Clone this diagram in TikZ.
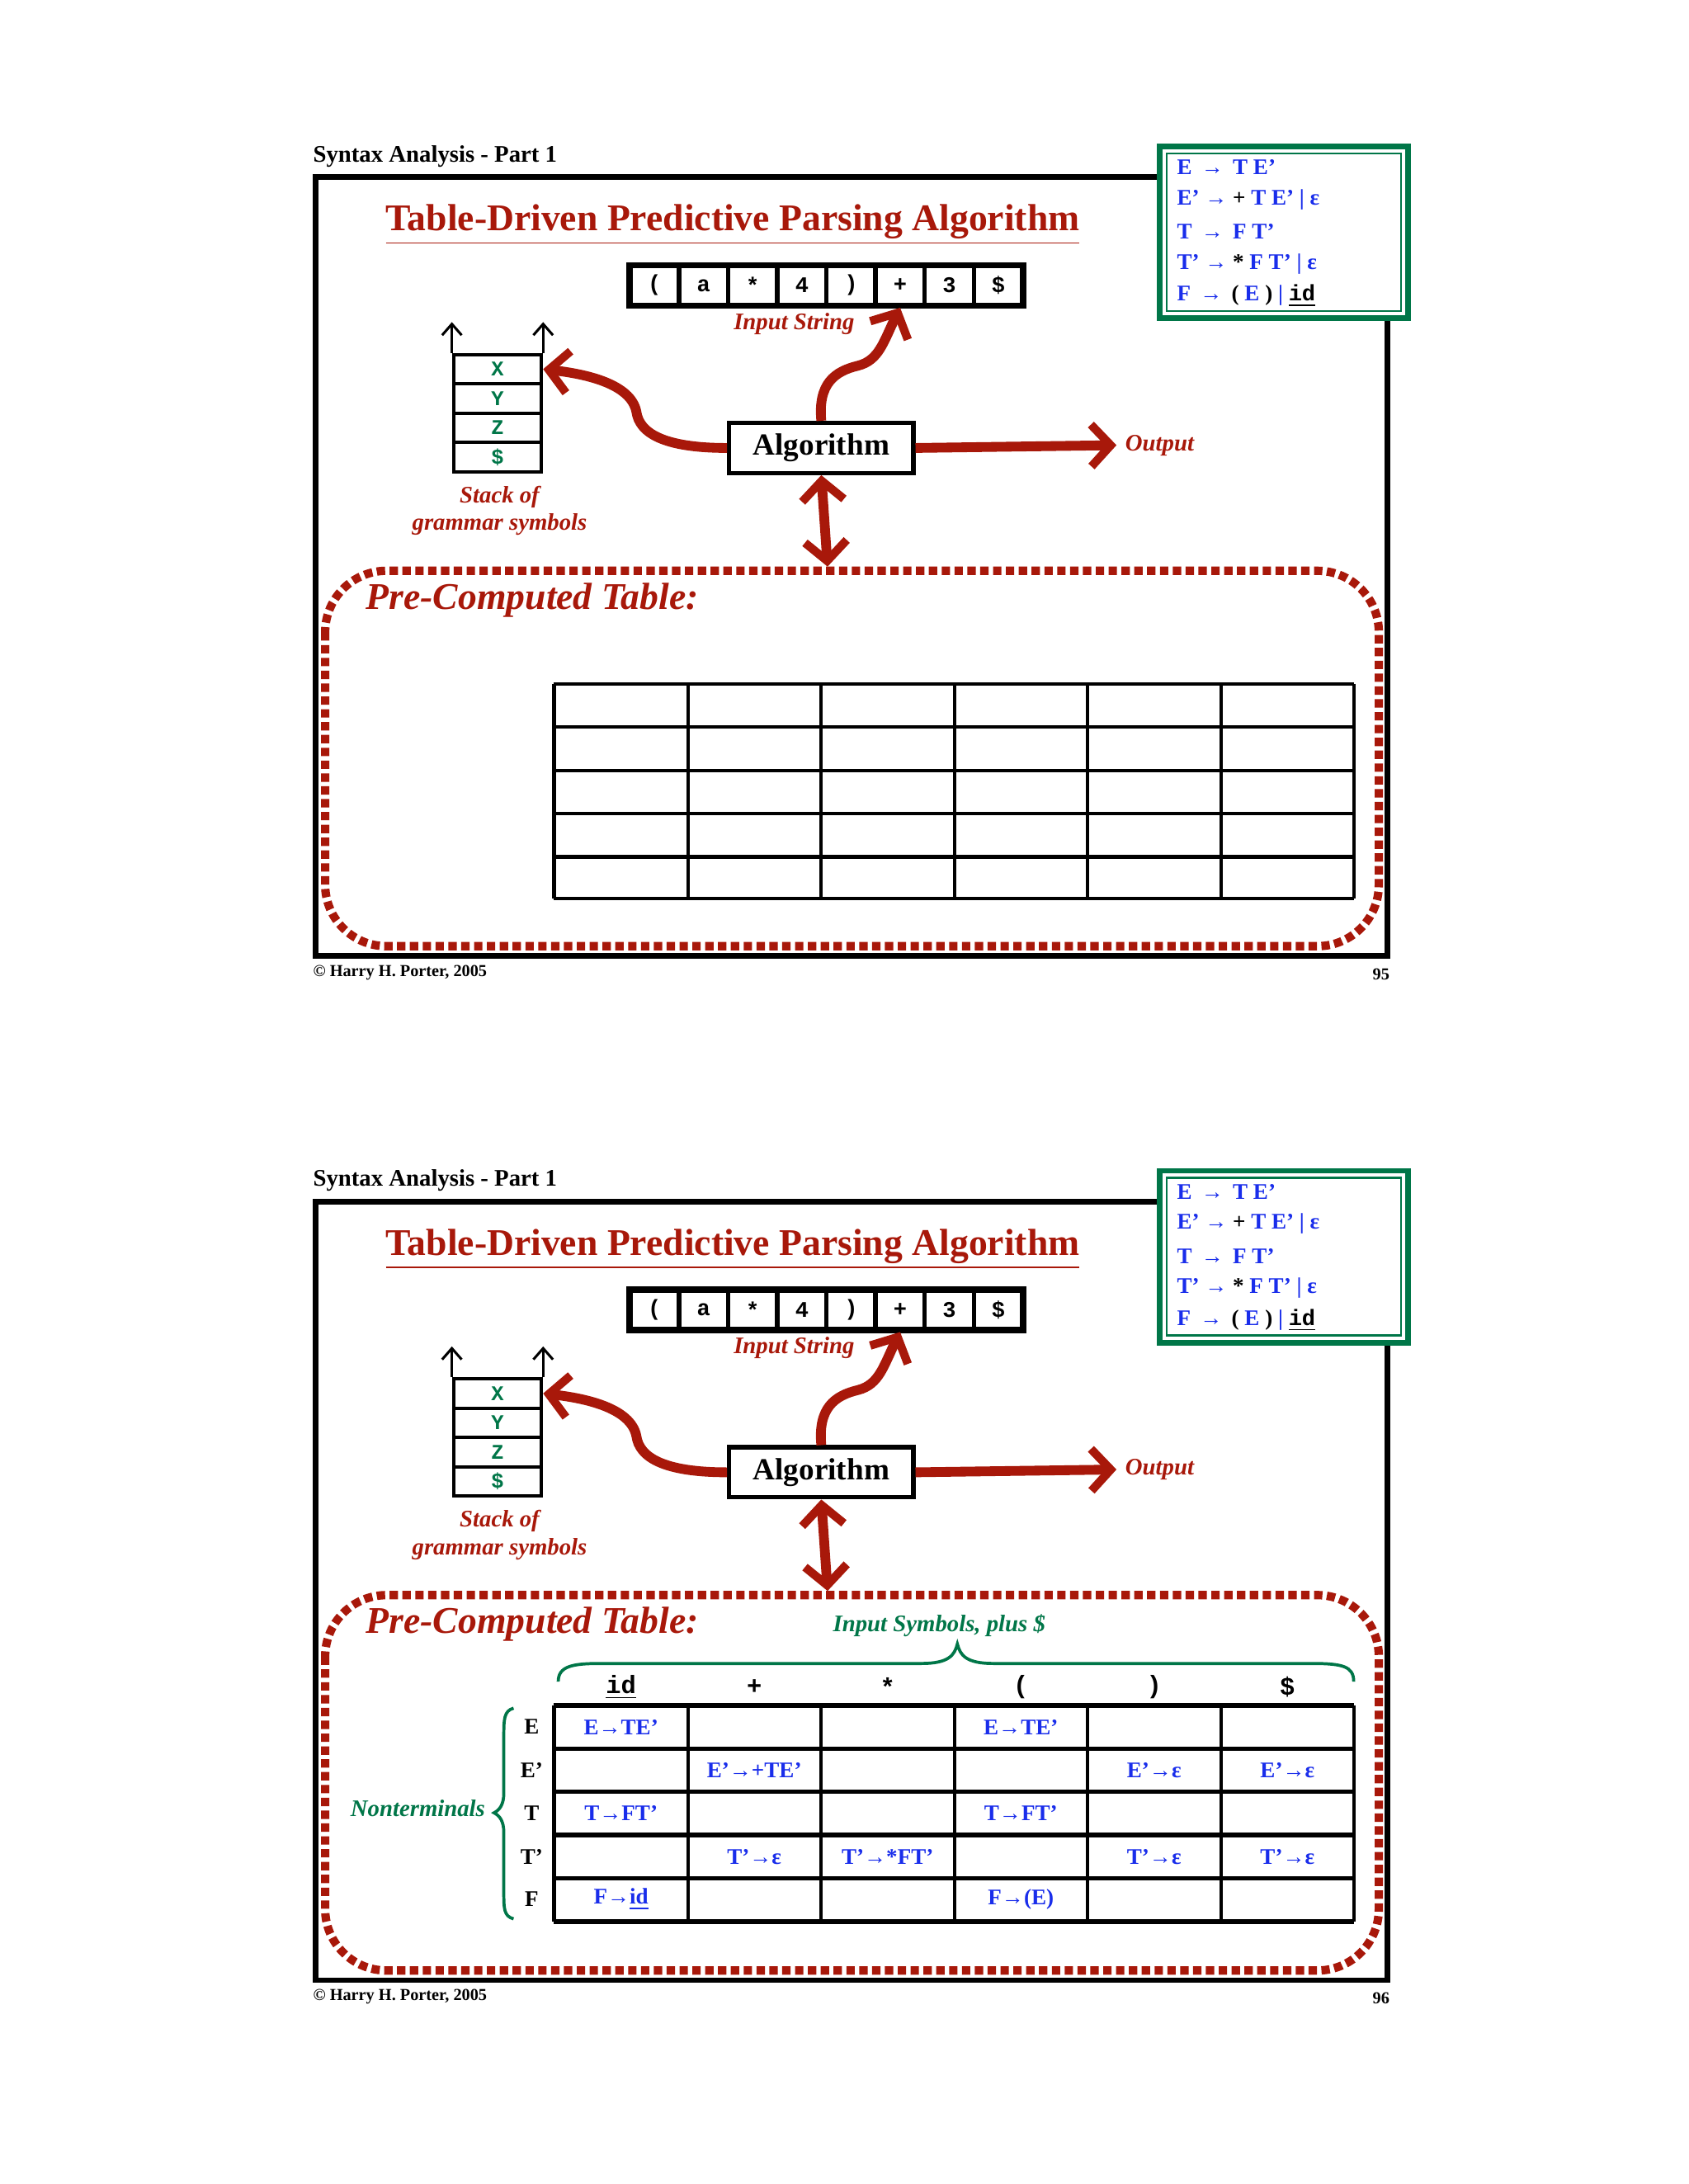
\documentclass[tikz,border=0pt]{standalone}
\usepackage{fontspec}
\setmainfont{Liberation Serif}
\setmonofont{Liberation Mono}
\usetikzlibrary{arrows.meta}
\definecolor{dred}{RGB}{168,24,10}
\definecolor{gblue}{RGB}{25,45,235}
\definecolor{dgreen}{RGB}{0,118,72}
\tikzset{
  redarrow/.style={draw=dred,line width=3.5pt,-{Straight Barb[length=7pt,width=15pt,line width=3pt]}},
  redboth/.style={draw=dred,line width=3.5pt,{Straight Barb[length=7pt,width=15pt,line width=3pt]}-{Straight Barb[length=7pt,width=15pt,line width=3pt]}},
  cellbox/.style={draw,line width=1.5pt,minimum width=17.5pt,minimum height=14.5pt,inner sep=0pt,font=\ttfamily\bfseries\fontsize{8}{9}\selectfont},
  stackcell/.style={draw,line width=1.2pt,minimum width=31.5pt,minimum height=10.5pt,inner sep=0pt,text=dgreen,font=\ttfamily\bfseries\fontsize{7.5}{8}\selectfont},
  rlabel/.style={text=dred,font=\bfseries\itshape\fontsize{8.5}{10}\selectfont},
  gram/.style={anchor=west,inner sep=0pt,text=gblue,font=\bfseries\fontsize{8}{9}\selectfont},
  entry/.style={text=gblue,font=\bfseries\fontsize{8}{9}\selectfont,inner sep=0pt},
  rowlab/.style={font=\bfseries\fontsize{8}{9}\selectfont,inner sep=0pt},
}
\begin{document}
\begin{tikzpicture}[x=0.5pt,y=-0.5pt]
\fill[white] (0,0) rectangle (1210,1565);
\useasboundingbox (0,0) rectangle (1210,1565);
\foreach \s in {0,734}{
\begin{scope}[shift={(0,\s)}]
\node[anchor=west,inner sep=0pt,font=\bfseries\fontsize{8.5}{10}\selectfont] (hd\s) at (224,112) {Syntax Analysis - Part 1};
\draw[line width=2pt] (226,127) rectangle (994,685);
\filldraw[fill=white,draw=dgreen,line width=2pt] (831,105) rectangle (1009,228);
\draw[dgreen,line width=0.7pt] (836,110) rectangle (1004,223);
\node[gram] (g1\s) at (843,120) {E \,→\, T E'};
\node[gram] (g2\s) at (843,143) {E' → \textcolor{black}{+} T E' | ε};
\node[gram] (g3\s) at (843,166) {T \,→\, F T'};
\node[gram] (g4\s) at (843,189) {T' → \textcolor{black}{*} F T' | ε};
\node[gram] (g5\s) at (843,212) {F \,→\, \textcolor{black}{( }E \textcolor{black}{)} | \textcolor{black}{\ttfamily\underline{id}}};
\node[text=dred,font=\bfseries\fontsize{13.5}{15}\selectfont,inner sep=1pt] (tt\s) at (525,161) {\underline{Table-Driven Predictive Parsing Algorithm}};
\foreach \c [count=\i] in {{(},{a},{*},{4},{)},{+},{3},{\$}}{
  \node[cellbox] (in\i-\s) at (469+35.2*\i-35.2,204.5) {\c};
}
\draw[line width=2.2pt] (451,190) rectangle (733,219);
\node[rlabel] (is\s) at (569,232) {Input String};
\foreach \c [count=\i] in {{X},{Y},{Z},{\$}}{
  \node[stackcell] (st\i-\s) at (356.5,264.5+21*\i-21) {\c};
}
\draw[line width=0.9pt,-{Straight Barb[length=4pt,width=7pt]}] (st1-\s.north west) -- ++(0,-22);
\draw[line width=0.9pt,-{Straight Barb[length=4pt,width=7pt]}] (st1-\s.north east) -- ++(0,-22);
\node[rlabel,align=center] (sl\s) at (358,366) {Stack of\\grammar symbols};
\node[draw,line width=1.5pt,minimum width=66pt,minimum height=18pt,font=\bfseries\fontsize{11}{12}\selectfont] (alg\s) at (588.5,321) {Algorithm};
\draw[redarrow] (alg\s.west) .. controls (475,321) and (458,310) .. (456,295) .. controls (452,275) and (420,268) .. (st1-\s.east);
\draw[redarrow] (alg\s.north) .. controls (586,275) and (598,266) .. (615,262) .. controls (630,258) and (633,245) .. (in6-\s.south);
\coordinate (outp\s) at (800,319);
\draw[redarrow] (alg\s.east) -- (outp\s);
\node[rlabel,anchor=west,inner sep=0pt] (ol\s) at (806,319) {Output};
\draw[dred,line width=3pt,dash pattern=on 3pt off 1.6pt,rounded corners=22pt] (233,409) rectangle (988,678);
\coordinate (tbtop\s) at (593,406);
\draw[redboth] (alg\s.south) -- (tbtop\s);
\node[text=dred,font=\bfseries\itshape\fontsize{13.5}{15}\selectfont,anchor=west,inner sep=0pt] (pc\s) at (262,430) {Pre-Computed Table:};
\end{scope}}
% table slide 1
\begin{scope}
\foreach \y in {490,521,552,583,614,644} \draw[line width=1.2pt] (397,\y) -- (970,\y);
\foreach \x in {397,493,588,684,779,875,970} \draw[line width=1.2pt] (\x,490) -- (\x,644);
\end{scope}
% table slide 2
\begin{scope}[shift={(0,732)}]
\foreach \y in {490,521,552,583,614,645} \draw[line width=1.6pt] (397,\y) -- (970,\y);
\foreach \x in {397,493,588,684,779,875,970} \draw[line width=1.2pt] (\x,490) -- (\x,645);
\end{scope}
\node[text=dgreen,font=\bfseries\itshape\fontsize{8.5}{10}\selectfont] (isym) at (673,1165) {Input Symbols, plus \$};
\draw[dgreen,line width=1.1pt] (400,1205) .. controls (400,1194) and (410,1192) .. (430,1192) -- (660,1192) .. controls (680,1192) and (684,1186) .. (686,1178) .. controls (688,1186) and (692,1192) .. (712,1192) -- (940,1192) .. controls (962,1192) and (970,1194) .. (970,1205);
\foreach \c/\x in {{\underline{id}}/445,{+}/540.5,{*}/636,{(}/731.5,{)}/827,{\$}/922.5}{
  \node[font=\ttfamily\bfseries\fontsize{9}{10}\selectfont,inner sep=0pt] (h\x) at (\x,1209) {\c};
}
\foreach \l/\y in {E/1237.5,E'/1268.5,T/1299.5,T'/1330.5,F/1361}{
  \node[rowlab] (r\y) at (381,\y) {\l};
}
\draw[dgreen,line width=1.1pt] (368,1224) .. controls (361,1226) and (361,1232) .. (361,1245) -- (361,1285) .. controls (361,1293) and (358,1297) .. (354,1299) .. controls (358,1301) and (361,1305) .. (361,1313) -- (361,1355) .. controls (361,1368) and (361,1373) .. (368,1375);
\node[text=dgreen,font=\bfseries\itshape\fontsize{8.5}{10}\selectfont,anchor=east,inner sep=0pt] (nt) at (348,1296) {Nonterminals};
\node[entry] (e11) at (445,1237.5) {E→TE'};
\node[entry] (e14) at (731.5,1237.5) {E→TE'};
\node[entry] (e22) at (540.5,1268.5) {E'→+TE'};
\node[entry] (e25) at (827,1268.5) {E'→ε};
\node[entry] (e26) at (922.5,1268.5) {E'→ε};
\node[entry] (e31) at (445,1299.5) {T→FT'};
\node[entry] (e34) at (731.5,1299.5) {T→FT'};
\node[entry] (e42) at (540.5,1330.5) {T'→ε};
\node[entry] (e43) at (636,1330.5) {T'→*FT'};
\node[entry] (e45) at (827,1330.5) {T'→ε};
\node[entry] (e46) at (922.5,1330.5) {T'→ε};
\node[entry] (e51) at (445,1361) {F→\underline{id}};
\node[entry] (e54) at (731.5,1361) {F→(E)};
\foreach \s/\n in {0/95,734/96}{
  \node[anchor=west,inner sep=0pt,font=\bfseries\fontsize{6}{7}\selectfont] (cp\s) at (224,697+\s) {© Harry H. Porter, 2005};
  \node[anchor=east,inner sep=0pt,font=\bfseries\fontsize{6}{7}\selectfont] (pn\s) at (996,698+\s) {\n};
}
\end{tikzpicture}
\end{document}
